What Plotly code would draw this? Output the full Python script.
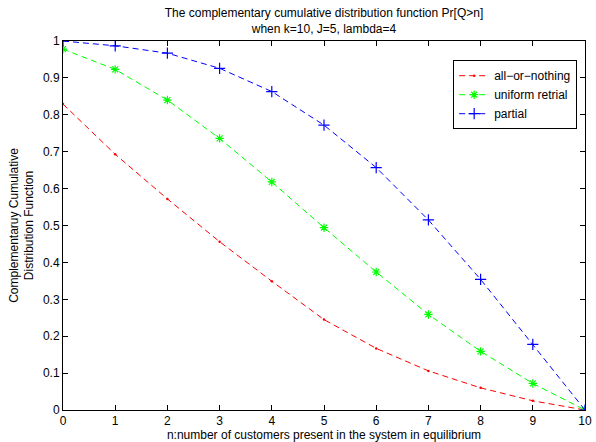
import plotly.graph_objects as go

n = list(range(11))
all_or_nothing = [0.829, 0.693, 0.572, 0.456, 0.349, 0.245, 0.167, 0.106, 0.060, 0.025, 0.0]
uniform_retrial = [0.978, 0.923, 0.840, 0.736, 0.618, 0.494, 0.374, 0.259, 0.159, 0.072, 0.0]
partial = [1.0, 0.987, 0.967, 0.926, 0.863, 0.772, 0.657, 0.515, 0.354, 0.178, 0.0]

xticks = list(range(11))
yticks = [round(i * 0.1, 1) for i in range(11)]
ytick_text = ["0", "0.1", "0.2", "0.3", "0.4", "0.5", "0.6", "0.7", "0.8", "0.9", "1"]

FONT = "Liberation Sans, Arial, Helvetica, sans-serif"
FS = 12

fig = go.Figure()
fig.add_trace(go.Scatter(
    x=n, y=all_or_nothing, name="all\u2212or\u2212nothing", mode="lines+markers",
    line=dict(color="#ff0000", width=1, dash="6px,4px"),
    marker=dict(symbol="circle", size=2.5, color="#ff0000"),
))
fig.add_trace(go.Scatter(
    x=n, y=uniform_retrial, name="uniform retrial", mode="lines+markers",
    line=dict(color="#00ff00", width=1, dash="6px,4px"),
    marker=dict(symbol="asterisk-open", size=7, color="#00ff00", line=dict(color="#00ff00", width=1.2)),
))
fig.add_trace(go.Scatter(
    x=n, y=partial, name="partial", mode="lines+markers",
    line=dict(color="#0000ff", width=1, dash="6px,4px"),
    marker=dict(symbol="cross-thin-open", size=8, color="#0000ff", line=dict(color="#0000ff", width=1.2)),
))

axis_common = dict(
    showgrid=False, zeroline=False, showline=True, linecolor="black", linewidth=1,
    mirror="ticks", ticks="inside", ticklen=5, tickcolor="black", tickwidth=1,
    tickfont=dict(family=FONT, size=FS, color="black"),
    ticklabeloverflow="allow",
)

fig.update_layout(
    width=596, height=442,
    margin=dict(l=63, r=4, t=41, b=32),
    paper_bgcolor="white", plot_bgcolor="white",
    font=dict(family=FONT, size=FS, color="black"),
    title=dict(
        text="The complementary cumulative distribution function Pr[Q>n]<br>when k=10, J=5, lambda=4",
        x=0.5, xref="paper", xanchor="center",
        y=1, yref="paper", yanchor="bottom", pad=dict(b=24),
        font=dict(family=FONT, size=FS, color="black"),
    ),
    xaxis=dict(
        range=[0, 10], tickvals=xticks, ticktext=[str(v) for v in xticks],
        title=dict(text="n:number of customers present in the system in equilibrium", standoff=1,
                   font=dict(family=FONT, size=FS)),
        **axis_common,
    ),
    yaxis=dict(
        range=[0, 1], tickvals=yticks, ticktext=ytick_text,
        title=dict(text="Complementaruy Cumulative<br>Distribution Function", standoff=6,
                   font=dict(family=FONT, size=FS)),
        **axis_common,
    ),
    legend=dict(
        x=0.985, xanchor="right", y=0.948, yanchor="top",
        bgcolor="white", bordercolor="black", borderwidth=1,
        font=dict(family=FONT, size=FS, color="black"),
        tracegroupgap=0, itemwidth=30,
    ),
)

fig.write_html("out.html")
